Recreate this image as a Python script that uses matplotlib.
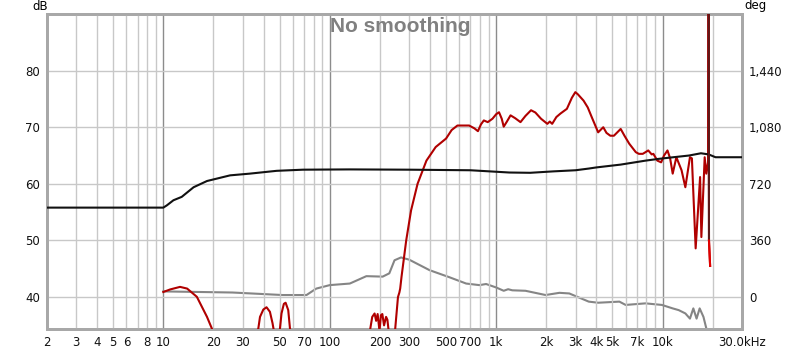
import matplotlib
matplotlib.use("Agg")
import matplotlib.pyplot as plt
from matplotlib.ticker import FixedLocator, FuncFormatter

# ---------------- DATA ----------------
# SPL (dark red), dB
spl_f = [10, 11, 12.6, 13.9, 15.9, 18.3, 19.6, 25,
         37.2, 38.1, 39.9, 41.7, 43.7, 45.3, 46.5, 48,
         50.2, 51.3, 53, 54.3, 56.3, 57.7, 100,
         172, 180, 186, 190, 194, 199, 203, 207, 212, 218, 222, 228,
         245, 257, 262, 265, 270, 288, 308, 337, 381, 433, 500, 540, 585, 688,
         740, 777, 810, 843, 890, 950, 1000, 1040, 1080, 1110, 1160, 1220,
         1300, 1400, 1500, 1620, 1720, 1860, 2030, 2100, 2170, 2300, 2430,
         2660, 2850, 2990, 3100, 3350, 3550, 3750, 4100, 4400, 4600, 4850,
         5100, 5600, 5900, 6300, 6900, 7200, 7600, 7900, 8200, 8600, 8800,
         9300, 9800, 10200, 10700, 11100, 11500, 12100, 13000, 13700, 14600,
         15000, 15800, 16800, 17100, 17900, 18300, 18800, 18900, 19000, 19300]
spl_db = [40.9, 41.35, 41.8, 41.5, 40.05, 36.5, 34.4, 25,
          34.4, 36.5, 37.8, 38.2, 37.4, 35.4, 33.5, 30,
          34.4, 37.1, 38.8, 39.0, 37.7, 34.4, 20,
          33, 36.5, 37.1, 35.8, 37.0, 34.0, 36.8, 37.0, 35.0, 36.5, 36.0, 33,
          33, 40.0, 40.8, 41.5, 43.6, 50.0, 55.3, 60.0, 64.1, 66.5, 68.0, 69.5, 70.3, 70.3,
          69.8, 69.3, 70.5, 71.2, 70.9, 71.5, 72.3, 72.65, 71.5, 70.1, 71.0, 72.1,
          71.6, 70.9, 72.0, 73.0, 72.6, 71.5, 70.6, 71.0, 70.6, 71.8, 72.4,
          73.25, 75.2, 76.2, 75.8, 74.7, 73.5, 71.8, 69.1, 70.0, 69.0, 68.5,
          68.5, 69.7, 68.5, 67.1, 65.6, 65.3, 65.3, 65.6, 65.9, 65.2, 65.3,
          64.1, 63.8, 65.0, 65.9, 64.5, 61.8, 64.7, 62.4, 59.4, 64.7,
          64.5, 48.6, 61.2, 50.6, 64.7, 61.8, 64.0, 100, 50.0, 45.5]

# black trace, dB
blk_f = [2, 10, 10.5, 11.5, 12.9, 15.2, 18.3, 25.2, 33, 48, 69, 132, 300, 700,
         1200, 1600, 2200, 3000, 3600, 4000, 5600, 7900, 9400, 11600, 14400,
         17000, 18900, 20800, 30000]
blk_db = [55.8, 55.8, 56.2, 57.1, 57.7, 59.4, 60.5, 61.5, 61.8, 62.3, 62.5, 62.55,
          62.5, 62.4, 62.0, 61.95, 62.2, 62.4, 62.7, 62.9, 63.4, 64.1, 64.4, 64.7,
          65.0, 65.4, 65.2, 64.7, 64.7]

# grey trace, deg (right axis)
gry_f = [10, 26, 52, 72.5, 83, 100, 132, 166, 208, 228, 245, 268, 300, 398,
         524, 660, 793, 870, 1000, 1110, 1180, 1250, 1500, 1980, 2400, 2750,
         3600, 4100, 5500, 6000, 7900, 9900, 11500, 12500, 13700, 14600, 15300,
         16000, 16700, 17600, 18300, 18900]
gry_deg = [36, 29, 13, 13, 54, 76, 86, 133, 130, 151, 234, 252, 238, 171,
           126, 86, 76, 83, 61, 40, 50, 43, 40, 13, 27, 23,
           -29, -36, -29, -50, -40, -50, -72, -83, -104, -137, -72,
           -137, -72, -126, -198, -250]

x_ticks = [2, 3, 4, 5, 6, 8, 10, 20, 30, 50, 70, 100, 200, 300, 500, 700,
           1000, 2000, 3000, 4000, 5000, 7000, 10000, 30000]
x_labels = ['2', '3', '4', '5', '6', '8', '10', '20', '30', '50', '70', '100',
            '200', '300', '500', '700', '1k', '2k', '3k', '4k', '5k', '7k',
            '10k', '30.0kHz']
db_ticks = [40, 50, 60, 70, 80]
deg_ticks = [0, 360, 720, 1080, 1440]

# ---------------- FIGURE ----------------
plt.rcParams['font.family'] = 'DejaVu Sans'
fig = plt.figure(figsize=(8, 3.51), dpi=100)
ax = fig.add_axes([47 / 800, 1 - 329 / 351, 695 / 800, 315 / 351])
ax2 = ax.twinx()

db_lo, db_hi = 34.36, 90
ax.set_xscale('log')
ax.set_xlim(2, 30000)
ax.set_ylim(db_lo, db_hi)
ax2.set_ylim((db_lo - 40) * 36, (db_hi - 40) * 36)

# grid: light minor lines, darker decade lines
minor = [m * 10 ** e for e in range(0, 5) for m in range(2, 10) if 2 <= m * 10 ** e < 30000]
for f in minor:
    ax.axvline(f, color='#c8c8c8', lw=1, zorder=0)
for f in [10, 100, 1000, 10000]:
    ax.axvline(f, color='#8c8c8c', lw=1, zorder=0)
for d in db_ticks:
    ax.axhline(d, color='#c8c8c8', lw=1, zorder=0)

# curves
ax2.plot(gry_f, gry_deg, color='#858585', lw=1.5, zorder=2)
ax.plot(spl_f, spl_db, color='#b00000', lw=1.5, zorder=3)
ax.plot(blk_f, blk_db, color='#111111', lw=1.5, zorder=4)
ax.plot(spl_f[-3:-1], spl_db[-3:-1], color='#5a1a1a', lw=1.5, zorder=5)
ax.plot(spl_f[-2:], spl_db[-2:], color='#e00000', lw=1.5, zorder=5)

ax.set_zorder(ax2.get_zorder() + 1)
ax.patch.set_visible(False)

# ticks
ax.xaxis.set_major_locator(FixedLocator(x_ticks))
ax.xaxis.set_minor_locator(FixedLocator([]))
ax.set_xticklabels(x_labels)
ax.set_yticks(db_ticks)
ax2.set_yticks(deg_ticks)
ax2.yaxis.set_major_formatter(FuncFormatter(lambda v, p: f'{int(v):,}'))
for a in (ax, ax2):
    a.tick_params(length=0, labelsize=8.5, colors='#111111', pad=5)
    for s in a.spines.values():
        s.set_color('#a8a8a8')
        s.set_linewidth(2)

fig.text(32 / 800, 1 - 6 / 351, 'dB', fontsize=8.5, ha='left', va='center')
fig.text(744 / 800, 1 - 6 / 351, 'deg', fontsize=8.5, ha='left', va='center')
fig.text(400 / 800, 1 - 26 / 351, 'No smoothing', fontsize=15, fontweight='bold',
         family='Liberation Sans', color='#808080', ha='center', va='center')

plt.savefig('out.png', dpi=100)
